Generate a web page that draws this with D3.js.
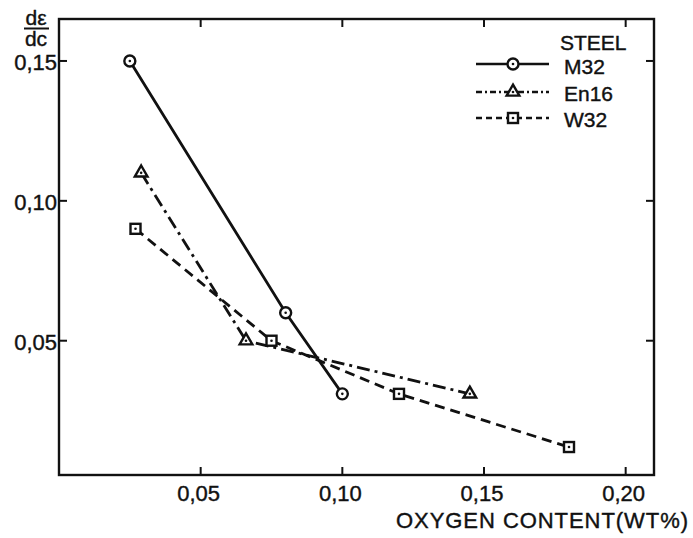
<!DOCTYPE html>
<html>
<head>
<meta charset="utf-8">
<script src="https://cdn.jsdelivr.net/npm/d3@7"></script>
<style>
  body { margin: 0; background: #fff; }
  text { font-family: "Liberation Sans", Arial, sans-serif; fill: #111; stroke: #111; stroke-width: 0.4; }
</style>
</head>
<body>
<svg id="chart" width="693" height="538"></svg>
<script>
var width = 693, height = 538;

// data
var m32X = [0.025, 0.080, 0.100];
var m32Y = [0.150, 0.060, 0.031];
var en16X = [0.029, 0.066, 0.145];
var en16Y = [0.110, 0.050, 0.031];
var w32X = [0.027, 0.075, 0.120, 0.180];
var w32Y = [0.090, 0.050, 0.031, 0.012];

var xTicks = [0.05, 0.10, 0.15, 0.20];
var xTickLabels = ["0,05", "0,10", "0,15", "0,20"];
var yTicks = [0.05, 0.10, 0.15];
var yTickLabels = ["0,05", "0,10", "0,15"];
var seriesNames = ["M32", "En16", "W32"];

var svg = d3.select("#chart");

var x = d3.scaleLinear().domain([0, 0.21]).range([59, 654]);
var y = d3.scaleLinear().domain([0.002, 0.165]).range([475, 19]);

var ink = "#111";

// frame
svg.append("rect")
  .attr("x", x(0)).attr("y", y(0.165))
  .attr("width", x(0.21) - x(0)).attr("height", y(0.002) - y(0.165))
  .attr("fill", "none").attr("stroke", ink).attr("stroke-width", 2.4);

// ticks (all point inward)
var tl = 8;
svg.append("g").selectAll("line").data(xTicks).enter().append("line")
  .attr("x1", d => x(d)).attr("x2", d => x(d))
  .attr("y1", y(0.002)).attr("y2", y(0.002) - tl)
  .attr("stroke", ink).attr("stroke-width", 2);
svg.append("g").selectAll("line").data(xTicks).enter().append("line")
  .attr("x1", d => x(d)).attr("x2", d => x(d))
  .attr("y1", y(0.165)).attr("y2", y(0.165) + tl)
  .attr("stroke", ink).attr("stroke-width", 2);
svg.append("g").selectAll("line").data(yTicks).enter().append("line")
  .attr("x1", x(0)).attr("x2", x(0) + tl)
  .attr("y1", d => y(d)).attr("y2", d => y(d))
  .attr("stroke", ink).attr("stroke-width", 2);
svg.append("g").selectAll("line").data(yTicks).enter().append("line")
  .attr("x1", x(0.21)).attr("x2", x(0.21) - tl)
  .attr("y1", d => y(d)).attr("y2", d => y(d))
  .attr("stroke", ink).attr("stroke-width", 2);

// tick labels
svg.append("g").selectAll("text").data(xTicks).enter().append("text")
  .attr("x", d => x(d) - 2).attr("y", 501)
  .attr("text-anchor", "middle").attr("font-size", 22)
  .text((d, i) => xTickLabels[i]);
svg.append("g").selectAll("text").data(yTicks).enter().append("text")
  .attr("x", 57).attr("y", d => y(d) + 9)
  .attr("text-anchor", "end").attr("font-size", 22)
  .text((d, i) => yTickLabels[i]);

// axis titles
svg.append("text")
  .attr("x", 688).attr("y", 528)
  .attr("text-anchor", "end").attr("font-size", 22)
  .attr("textLength", 292)
  .text("OXYGEN CONTENT(WT%)");
svg.append("text").attr("x", 36).attr("y", 25)
  .attr("text-anchor", "middle").attr("font-size", 21).text("dε");
svg.append("line").attr("x1", 24).attr("x2", 49).attr("y1", 28.5).attr("y2", 28.5)
  .attr("stroke", ink).attr("stroke-width", 2);
svg.append("text").attr("x", 36).attr("y", 46)
  .attr("text-anchor", "middle").attr("font-size", 21).text("dc");

// series
var series = [
  { name: "M32", xs: m32X, ys: m32Y, dash: null, marker: "circle" },
  { name: "En16", xs: en16X, ys: en16Y, dash: "13,5,3,5", marker: "triangle" },
  { name: "W32", xs: w32X, ys: w32Y, dash: "10,6", marker: "square" }
];

var line = d3.line().x(d => x(d[0])).y(d => y(d[1]));

function drawMarker(g, type, cx, cy) {
  if (type === "circle") {
    g.append("circle").attr("cx", cx).attr("cy", cy).attr("r", 5.5)
      .attr("fill", "#fff").attr("stroke", ink).attr("stroke-width", 2.4);
  } else if (type === "triangle") {
    g.append("path")
      .attr("d", d3.symbol(d3.symbolTriangle, 70)())
      .attr("transform", "translate(" + cx + "," + cy + ")")
      .attr("fill", "#fff").attr("stroke", ink).attr("stroke-width", 2.4);
  } else {
    g.append("rect").attr("x", cx - 5).attr("y", cy - 5)
      .attr("width", 10).attr("height", 10)
      .attr("fill", "#fff").attr("stroke", ink).attr("stroke-width", 2.4);
  }
  g.append("circle").attr("cx", cx).attr("cy", cy).attr("r", 1.3).attr("fill", ink);
}

series.forEach(function(s) {
  var pts = s.xs.map((v, i) => [v, s.ys[i]]);
  svg.append("path").datum(pts)
    .attr("d", line)
    .attr("fill", "none").attr("stroke", ink).attr("stroke-width", 2.8)
    .attr("stroke-dasharray", s.dash);
  var g = svg.append("g");
  pts.forEach(p => drawMarker(g, s.marker, x(p[0]), y(p[1])));
});

// legend
svg.append("text").attr("x", 560).attr("y", 50).attr("font-size", 21).text("STEEL");
var legY = [64, 92, 118];
var legText = [74, 101, 127];
var legDash = [null, "6,3,2,3", "6,4"];
series.forEach(function(s, i) {
  svg.append("line").attr("x1", 476).attr("x2", 549)
    .attr("y1", legY[i]).attr("y2", legY[i])
    .attr("stroke", ink).attr("stroke-width", 2.4)
    .attr("stroke-dasharray", legDash[i]);
  var g = svg.append("g");
  drawMarker(g, s.marker, 513, legY[i]);
  svg.append("text").attr("x", 564).attr("y", legText[i])
    .attr("font-size", 21).text(seriesNames[i]);
});
</script>
</body>
</html>
